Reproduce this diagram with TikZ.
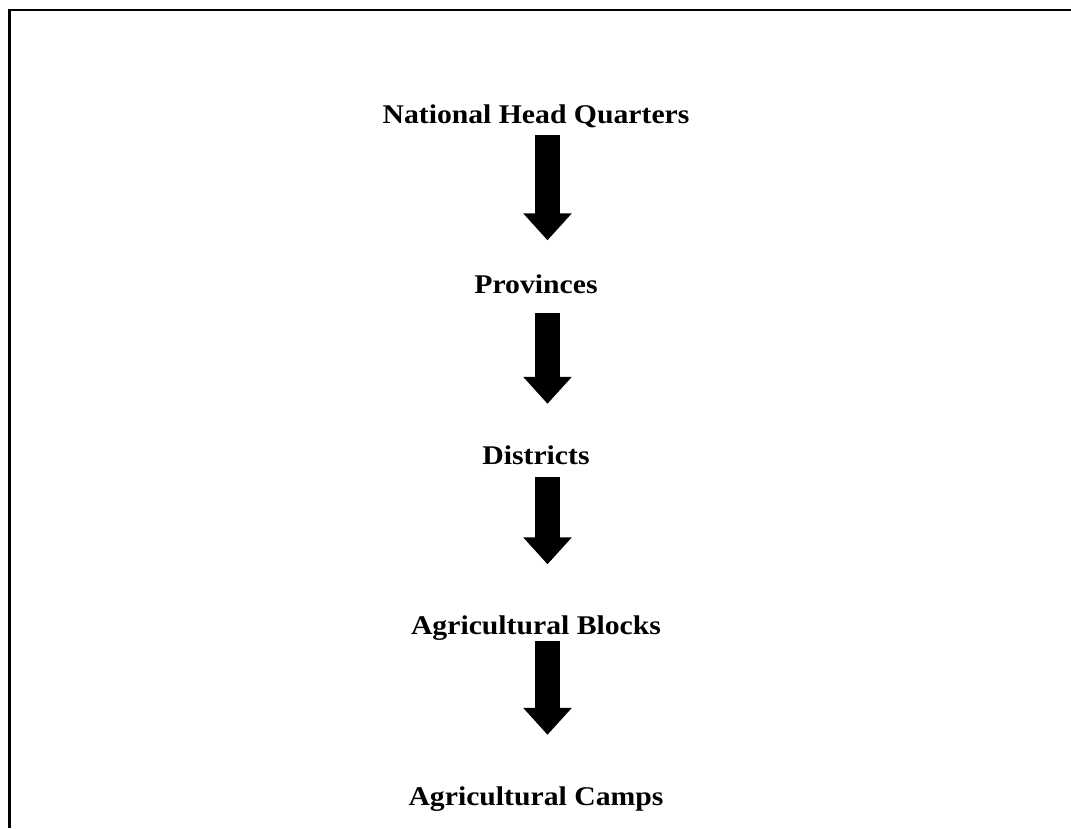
\documentclass[tikz,border=0pt]{standalone}
\usepackage{fontspec}
\setmainfont[FakeStretch=1.1]{Liberation Serif}
\usetikzlibrary{positioning, arrows.meta}
\tikzset{level/.style={font=\bfseries\fontsize{27}{30}\selectfont, inner sep=0pt, text height=18pt, text depth=6pt},
         down/.style={line width=25pt, -{Triangle[width=47pt, length=27pt]}},
         node distance = 170.5pt}

\begin{document}
\begin{tikzpicture}[x=1pt, y=1pt]
    \useasboundingbox (0,0) rectangle (1071,-828);
    \draw[line width=2.5pt] (9.5,-828) -- (9.5,-10) -- (1071,-10);
    \node[level] (hq) at (536,-117) {National Head Quarters};
    \node[level, below of=hq] (prov) {Provinces};
    \node[level, below of=prov] (dist) {Districts};
    \node[level, below of=dist] (blocks) {Agricultural Blocks};
    \node[level, below of=blocks] (camps) {Agricultural Camps};
    \draw ([xshift=11.5pt]hq.south) edge[down, shorten <=6pt, shorten >=35pt] ([xshift=11.5pt]prov.north)
          ([xshift=11.5pt]prov.south) edge[down, shorten <=13pt, shorten >=42pt] ([xshift=11.5pt]dist.north)
          ([xshift=11.5pt]dist.south) edge[down, shorten <=7pt, shorten >=52pt] ([xshift=11.5pt]blocks.north)
          ([xshift=11.5pt]blocks.south) edge[down, shorten <=0pt, shorten >=52pt] ([xshift=11.5pt]camps.north);
\end{tikzpicture}
\end{document}
